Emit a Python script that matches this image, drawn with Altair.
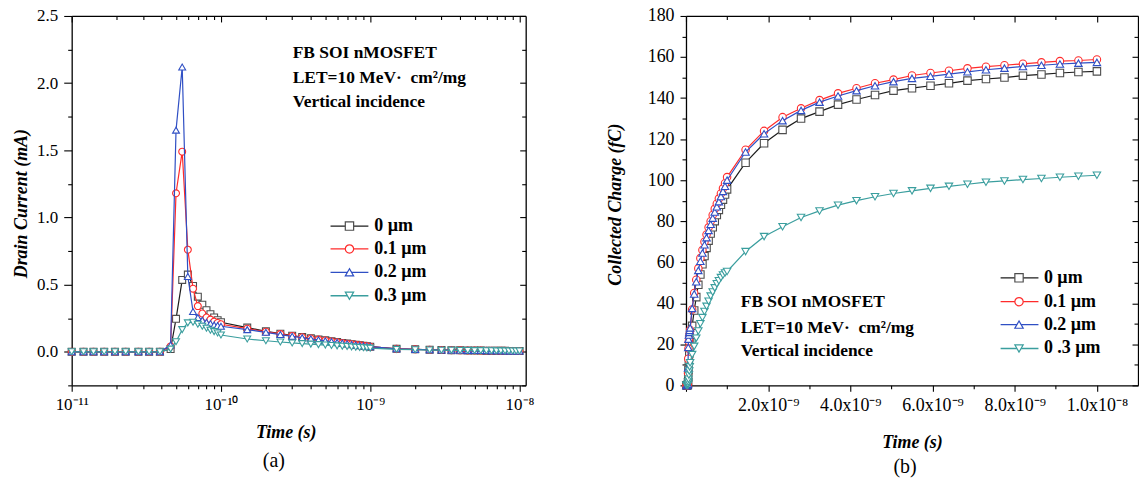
import altair as alt
import pandas as pd

FONT = "Liberation Serif"

# ---------------- panel (a): drain current vs time (log time axis) ----------------
time_a = [1.0e-11, 1.2e-11, 1.4e-11, 1.65e-11, 1.95e-11, 2.3e-11, 2.8e-11, 3.3e-11, 3.9e-11, 4.6e-11,
          5.0e-11, 5.5e-11, 6.0e-11, 6.5e-11, 7.0e-11, 7.5e-11, 8.0e-11, 8.5e-11, 9.0e-11, 9.5e-11, 1.0e-10,
          1.5e-10, 2.0e-10, 2.5e-10, 3.0e-10, 3.5e-10, 4.0e-10, 4.5e-10, 5.0e-10, 5.5e-10, 6.0e-10,
          6.5e-10, 7.0e-10, 7.5e-10, 8.0e-10, 8.5e-10, 9.0e-10, 9.5e-10, 1.0e-9,
          1.5e-9, 2.0e-9, 2.5e-9, 3.0e-9, 3.5e-9, 4.0e-9, 4.5e-9, 5.0e-9, 5.5e-9, 6.0e-9,
          6.5e-9, 7.0e-9, 7.5e-9, 8.0e-9, 8.5e-9, 9.0e-9, 9.5e-9, 1.0e-8]

cur_0um = [0, 0, 0, 0, 0, 0, 0, 0, 0, 0.02,
           0.245, 0.535, 0.575, 0.49, 0.41, 0.35, 0.31, 0.28, 0.255, 0.235, 0.22,
           0.18, 0.152, 0.135, 0.12, 0.11, 0.10, 0.092, 0.085, 0.078, 0.072,
           0.066, 0.061, 0.056, 0.052, 0.048, 0.044, 0.041, 0.038,
           0.022, 0.018, 0.015, 0.013, 0.012, 0.011, 0.010, 0.0095, 0.009, 0.0085,
           0.008, 0.0075, 0.007, 0.0068, 0.0065, 0.0062, 0.006, 0.0058]
cur_01um = [0, 0, 0, 0, 0, 0, 0, 0, 0, 0.04,
            1.18, 1.49, 0.76, 0.47, 0.34, 0.285, 0.255, 0.24, 0.225, 0.215, 0.205,
            0.172, 0.15, 0.132, 0.118, 0.108, 0.099, 0.091, 0.084, 0.077, 0.071,
            0.065, 0.06, 0.056, 0.052, 0.048, 0.044, 0.041, 0.038,
            0.022, 0.018, 0.015, 0.013, 0.012, 0.011, 0.010, 0.0095, 0.009, 0.0085,
            0.008, 0.0075, 0.007, 0.0068, 0.0065, 0.0062, 0.006, 0.0058]
cur_02um = [0, 0, 0, 0, 0, 0, 0, 0, 0, 0.05,
            1.65, 2.12, 0.56, 0.30, 0.255, 0.235, 0.22, 0.21, 0.20, 0.195, 0.19,
            0.165, 0.145, 0.128, 0.115, 0.105, 0.097, 0.089, 0.082, 0.076, 0.07,
            0.065, 0.06, 0.055, 0.051, 0.047, 0.044, 0.041, 0.038,
            0.022, 0.018, 0.015, 0.013, 0.012, 0.011, 0.010, 0.0095, 0.009, 0.0085,
            0.008, 0.0075, 0.007, 0.0068, 0.0065, 0.0062, 0.006, 0.0058]
cur_03um = [0, 0, 0, 0, 0, 0, 0, 0, 0, 0.02,
            0.075, 0.165, 0.215, 0.22, 0.205, 0.19, 0.175, 0.16, 0.15, 0.14, 0.125,
            0.095, 0.082, 0.073, 0.066, 0.061, 0.057, 0.053, 0.05, 0.047, 0.044,
            0.041, 0.039, 0.036, 0.034, 0.032, 0.03, 0.029, 0.027,
            0.018, 0.015, 0.013, 0.012, 0.011, 0.010, 0.0095, 0.009, 0.0085, 0.008,
            0.0075, 0.007, 0.0068, 0.0065, 0.0062, 0.006, 0.0058, 0.0055]

# ---------------- panel (b): collected charge vs time (linear time axis) ----------------
time_b = [1.0e-11, 3.0e-11, 4.6e-11, 5.0e-11, 5.5e-11, 6.0e-11, 7.0e-11, 8.0e-11, 9.0e-11,
          1.0e-10, 1.5e-10, 2.0e-10, 2.5e-10, 3.0e-10, 3.5e-10, 4.0e-10, 4.5e-10, 5.0e-10, 5.5e-10,
          6.0e-10, 6.5e-10, 7.0e-10, 7.5e-10, 8.0e-10, 8.5e-10, 9.0e-10, 9.5e-10, 1.0e-9,
          1.45e-9, 1.9e-9, 2.35e-9, 2.8e-9, 3.25e-9, 3.7e-9, 4.15e-9, 4.6e-9, 5.05e-9, 5.5e-9,
          5.95e-9, 6.4e-9, 6.85e-9, 7.3e-9, 7.75e-9, 8.2e-9, 8.65e-9, 9.1e-9, 9.55e-9, 1.0e-8]

q_0um = [0, 0, 0.2, 1.5, 4, 7.5, 12, 15.5, 18.5,
         21, 29, 36.5, 43, 49, 54, 59, 63, 67, 70.5, 74, 77, 80, 83, 85.5, 88, 90.5, 93, 95.5,
         108.5, 118, 124.5, 130, 133.4, 136.8, 139.3, 141.5, 143.6, 144.8,
         146, 147.2, 148.5, 149.3, 150, 150.9, 151.5, 152.2, 152.7, 153]
q_01um = [0, 0, 0.5, 6, 13, 18, 21.5, 23.5, 25,
          27, 37, 45, 51.5, 57, 62, 66, 70, 73.5, 77, 80, 83, 86, 88.5, 91, 93.5, 96, 98.5, 101.5,
          114.8, 124, 130.7, 135, 139, 142.3, 144.8, 147.2, 149, 151,
          152.2, 153.3, 154.5, 155.3, 156, 156.7, 157.4, 158, 158.3, 158.8]
q_02um = [0, 0, 0.6, 8.5, 18.5, 22.5, 24.5, 25.8, 26.8,
          28, 37.5, 44.5, 50.5, 56, 60.5, 64.5, 68.5, 72, 75.5, 78.5, 81.5, 84.5, 87, 89.5, 92, 94.5, 97, 100,
          113.7, 122.6, 129, 134, 138, 141, 143.6, 146, 148, 149.6,
          150.6, 151.7, 152.8, 153.8, 154.6, 155.4, 156, 156.6, 157, 157.4]
q_03um = [0, 0, 0.1, 0.6, 1.6, 3, 5, 7, 9,
          11, 15, 19, 23, 26.5, 30, 33, 36, 38.5, 41, 43.5, 45.5, 47.5, 49.5, 51, 52.5, 53.8, 54.8, 55.5,
          65.2, 72.5, 77.3, 81.8, 85, 87.8, 90, 91.9, 93.5, 94.8,
          96, 97, 98, 99, 99.6, 100.3, 100.8, 101.4, 101.9, 102.4]

labels_a = ["0 µm", "0.1 µm", "0.2 µm", "0.3 µm"]
labels_b = ["0 µm", "0.1 µm", "0.2 µm", "0 .3 µm"]
note_lines = ["FB SOI nMOSFET", "LET=10 MeV·\u00a0\u00a0cm²/mg", "Vertical incidence"]

# ticks
a_xticks = [1e-11, 1e-10, 1e-9, 1e-8]
a_xlabels = ["10⁻¹¹", "10⁻¹⁰", "10⁻⁹", "10⁻⁸"]
a_xminor = [k * 10.0 ** e for e in (-11, -10, -9) for k in range(2, 10)]
a_yticks = [0.0, 0.5, 1.0, 1.5, 2.0, 2.5]
a_yminor = [-0.25, 0.25, 0.75, 1.25, 1.75, 2.25]
b_xticks = [0.0, 2e-9, 4e-9, 6e-9, 8e-9, 1e-8]
b_xlabels = ["", "2.0x10⁻⁹", "4.0x10⁻⁹", "6.0x10⁻⁹", "8.0x10⁻⁹", "1.0x10⁻⁸"]
b_xminor = [1e-9, 3e-9, 5e-9, 7e-9, 9e-9]
b_yticks = [0, 20, 40, 60, 80, 100, 120, 140, 160, 180]
b_yminor = [10, 30, 50, 70, 90, 110, 130, 150, 170]

# styles
LINE_COLORS = ["#1c1c1c", "#ff2b2b", "#2f4fc4", "#3a9e9e"]
MARK_COLORS = ["#4d4d4d", "#ff2b2b", "#2f4fc4", "#3a9e9e"]
SHAPES = ["square", "circle", "triangle-up", "triangle-down"]


def js_list(vals):
    return "[" + ",".join(("'" + v + "'") if isinstance(v, str) else repr(v) for v in vals) + "]"


def ax(**kw):
    base = dict(domainColor="black", tickColor="black", labelColor="black", titleColor="black",
                domainWidth=1.3, tickWidth=1.1, grid=False, labelFont=FONT, titleFont=FONT)
    base.update(kw)
    return alt.Axis(**base)


def panel(times, values, labels, xscale, yscale, xt, xl, xmin, yt, yfmt, ymin, W, H,
          xtitle, ytitle, lab_size, xt_pos, yt_pos, ytick, leg, note, ptitle, pdx, poff, msize):
    dummy = pd.DataFrame({"k": [0]})
    frame = pd.DataFrame({"t": [xscale.domain[0], xscale.domain[1]],
                          "v": [yscale.domain[0], yscale.domain[1]]})
    layers = []
    xl_expr = f"{js_list(xl)}[indexof({js_list(xt)}, datum.value)]"
    main_x = ax(values=xt, labelExpr=xl_expr, tickSize=6, labelPadding=5, labelFontSize=lab_size,
                labelFlush=False, labelOverlap=False, orient="bottom", title=xtitle,
                titleFontSize=18, titleFontStyle="italic", titleFontWeight="bold",
                titleX=xt_pos[0], titleY=xt_pos[1], titleAlign="center", titleBaseline="middle")
    main_y = ax(values=yt, format=yfmt, tickSize=ytick, labelPadding=6, labelFontSize=lab_size,
                labelFlush=False, labelOverlap=False, orient="left", title=ytitle,
                titleFontSize=18, titleFontStyle="italic", titleFontWeight="bold",
                titleX=yt_pos[0], titleY=yt_pos[1], titleAlign="center", titleBaseline="middle",
                titleAngle=270)
    # axis-only layers: minor ticks, inward frame ticks on top/right
    axis_specs = [
        (main_x, main_y),
        (ax(values=xmin, labels=False, tickSize=3.5, domain=False, orient="bottom", title=None),
         ax(values=ymin, labels=False, tickSize=4, domain=False, orient="left", title=None)),
        (ax(values=xt, labels=False, tickSize=6, domain=True, orient="bottom", offset=-H, title=None),
         ax(values=yt, labels=False, tickSize=6, domain=True, orient="left", offset=-W, title=None)),
        (ax(values=xmin, labels=False, tickSize=3.5, domain=False, orient="bottom", offset=-H, title=None),
         ax(values=ymin, labels=False, tickSize=4, domain=False, orient="left", offset=-W, title=None)),
    ]
    for axx, axy in axis_specs:
        layers.append(alt.Chart(frame).mark_point(opacity=0, size=1).encode(
            x=alt.X("t:Q", scale=xscale, axis=axx),
            y=alt.Y("v:Q", scale=yscale, axis=axy)))
    for i, vals in enumerate(values):
        df = pd.DataFrame({"t": times, "v": vals})
        enc = dict(x=alt.X("t:Q", scale=xscale, axis=None), y=alt.Y("v:Q", scale=yscale, axis=None))
        layers.append(alt.Chart(df).mark_line(color=LINE_COLORS[i], strokeWidth=1.2).encode(**enc))
        layers.append(alt.Chart(df).mark_point(shape=SHAPES[i], filled=True, fill="white",
                                               stroke=MARK_COLORS[i], strokeWidth=1.1, size=msize,
                                               opacity=1).encode(**enc))
    # legend
    lx0, lx1, lpx, ltx, rows = leg
    for i, lab in enumerate(labels):
        layers.append(alt.Chart(dummy).mark_rule(color=LINE_COLORS[i], strokeWidth=1.3).encode(
            x=alt.value(lx0), x2=alt.value(lx1), y=alt.value(rows[i])))
        layers.append(alt.Chart(dummy).mark_point(shape=SHAPES[i], filled=True, fill="white",
                                                  stroke=MARK_COLORS[i], strokeWidth=1.2, size=70,
                                                  opacity=1).encode(
            x=alt.value(lpx), y=alt.value(rows[i])))
        layers.append(alt.Chart(dummy).mark_text(align="left", baseline="middle", font=FONT,
                                                 fontWeight="bold", fontSize=18, color="black").encode(
            x=alt.value(ltx), y=alt.value(rows[i]), text=alt.value(lab)))
    nx, nrows = note
    for line, ny in zip(note_lines, nrows):
        layers.append(alt.Chart(dummy).mark_text(align="left", baseline="middle", font=FONT,
                                                 fontWeight="bold", fontSize=17.5, color="black").encode(
            x=alt.value(nx), y=alt.value(ny), text=alt.value(line)))
    return alt.layer(*layers).resolve_axis(x="independent", y="independent").properties(
        width=W, height=H,
        title=alt.TitleParams(ptitle, orient="bottom", font=FONT, fontSize=20, fontWeight="normal",
                              color="black", offset=poff, dx=pdx, anchor="middle"))


W_A, W_B, H = 456, 454, 371

pa = panel(time_a, [cur_0um, cur_01um, cur_02um, cur_03um], labels_a,
           alt.Scale(type="log", domain=[1e-11, 1.1e-8], nice=False),
           alt.Scale(domain=[-0.25, 2.5], nice=False, zero=False),
           a_xticks, a_xlabels, a_xminor, a_yticks, ".1f", a_yminor, W_A, H,
           "Time (s)", "Drain Current (mA)", 17, (215, 47), (-50, 188), 8,
           (260, 298, 279, 304, [211, 234, 257.5, 281]),
           (222, [37, 62, 86]), "(a)", -25, 10, 48)

pb = panel(time_b, [q_0um, q_01um, q_02um, q_03um], labels_b,
           alt.Scale(domain=[0, 1.1e-8], nice=False, zero=False),
           alt.Scale(domain=[0, 180], nice=False),
           b_xticks, b_xlabels, b_xminor, b_yticks, "d", b_yminor, W_B, H,
           "Time (s)", "Collected Charge (fC)", 18, (227, 57), (-71, 189), 6,
           (316, 354, 334.5, 359.5, [263, 287, 310, 334]),
           (55, [287, 313, 337]), "(b)", -7, 6, 56)

chart = alt.hconcat(pa, pb, spacing=72).properties(
    padding={"left": 13, "top": 6, "right": 0, "bottom": 0}
).configure(background="white").configure_view(strokeWidth=0)

chart.save("out.html", embed_options={"renderer": "svg", "actions": False})
